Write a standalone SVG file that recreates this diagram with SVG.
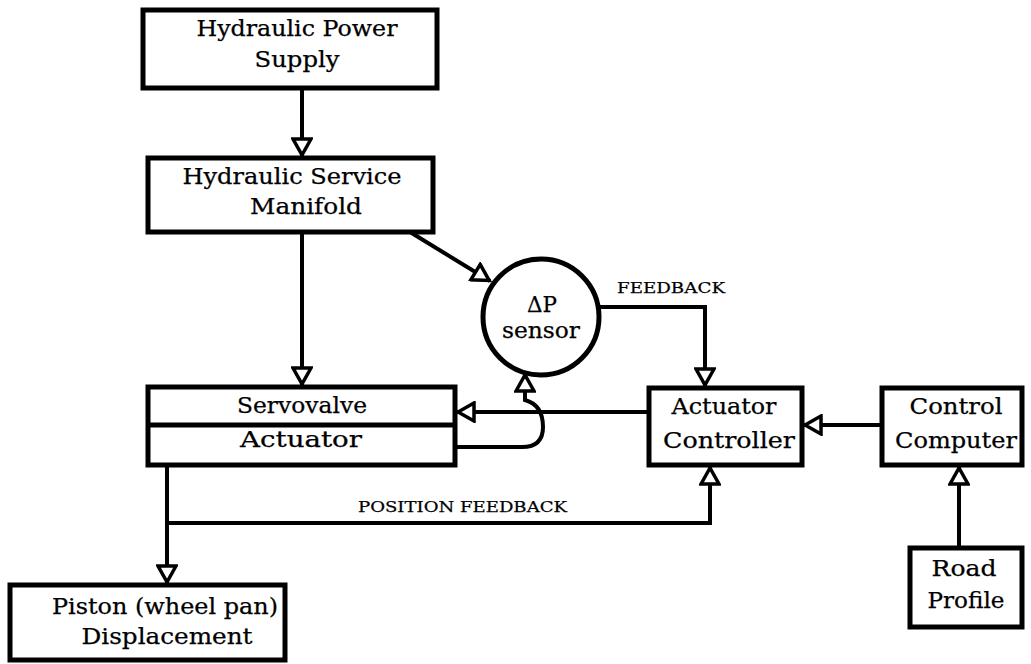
<svg xmlns="http://www.w3.org/2000/svg" width="1031" height="664" viewBox="0 0 1031 664">
<style>
.box{fill:#fff;stroke:#000;stroke-width:5}
.ln{fill:none;stroke:#000;stroke-width:4}
.t{font-family:"DejaVu Serif","Liberation Serif",serif;font-size:22px;text-anchor:middle;fill:#000;stroke:#000;stroke-width:0.25}
.s{font-family:"DejaVu Serif","Liberation Serif",serif;font-size:15px;fill:#000;stroke:#000;stroke-width:0.25}
</style>
<defs>
<marker id="ah" viewBox="0 0 22 22" refX="20" refY="11" markerWidth="22" markerHeight="22" markerUnits="userSpaceOnUse" orient="auto">
<path d="M3,2 L19,11 L3,20 z" fill="#fff" stroke="#000" stroke-width="3.5" stroke-linejoin="miter"/>
</marker>
</defs>
<rect width="1031" height="664" fill="#fff"/>
<g id="connectors">
<path class="ln" d="M302,88 V156" marker-end="url(#ah)"/>
<path class="ln" d="M302,232 V385" marker-end="url(#ah)"/>
<path class="ln" d="M410,232 L490,281" marker-end="url(#ah)"/>
<path class="ln" d="M599,307 H705 V386" marker-end="url(#ah)"/>
<path class="ln" d="M648,412 H457" marker-end="url(#ah)"/>
<path class="ln" d="M456,447 H522 Q543,447 543,427 Q543,405 525,400 V374" marker-end="url(#ah)"/>
<path class="ln" d="M882,425 H804" marker-end="url(#ah)"/>
<path class="ln" d="M959,548 V467" marker-end="url(#ah)"/>
<path class="ln" d="M167,465 V583" marker-end="url(#ah)"/>
<path class="ln" d="M167,523 H710 V467" marker-end="url(#ah)"/>
<text class="s" x="617" y="293" textLength="108" lengthAdjust="spacingAndGlyphs">FEEDBACK</text>
<text class="s" x="358" y="512" textLength="209" lengthAdjust="spacingAndGlyphs">POSITION FEEDBACK</text>
</g>
<g id="power">
<rect class="box" x="143" y="10" width="294" height="78"/>
<text class="t" x="297" y="36" textLength="201" lengthAdjust="spacingAndGlyphs">Hydraulic Power</text>
<text class="t" x="297" y="67" textLength="85" lengthAdjust="spacingAndGlyphs">Supply</text>
</g>
<g id="manifold">
<rect class="box" x="148" y="158" width="285" height="74"/>
<text class="t" x="292" y="184" textLength="219" lengthAdjust="spacingAndGlyphs">Hydraulic Service</text>
<text class="t" x="306" y="214" textLength="112" lengthAdjust="spacingAndGlyphs">Manifold</text>
</g>
<g id="sensor">
<circle cx="541" cy="317" r="58" fill="#fff" stroke="#000" stroke-width="5"/>
<text class="t" x="542" y="312" textLength="30" lengthAdjust="spacingAndGlyphs">ΔP</text>
<text class="t" x="541" y="338" textLength="78" lengthAdjust="spacingAndGlyphs">sensor</text>
</g>
<g id="servo">
<rect class="box" x="148" y="387" width="307" height="78"/>
<line x1="148" y1="425" x2="455" y2="425" stroke="#000" stroke-width="5"/>
<text class="t" x="302" y="413" textLength="130" lengthAdjust="spacingAndGlyphs">Servovalve</text>
<text class="t" x="301" y="447" textLength="122" lengthAdjust="spacingAndGlyphs">Actuator</text>
</g>
<g id="controller">
<rect class="box" x="649" y="388" width="153" height="77"/>
<text class="t" x="724" y="414" textLength="105" lengthAdjust="spacingAndGlyphs">Actuator</text>
<text class="t" x="729" y="448" textLength="132" lengthAdjust="spacingAndGlyphs">Controller</text>
</g>
<g id="computer">
<rect class="box" x="882" y="388" width="140" height="77"/>
<text class="t" x="956" y="414" textLength="93" lengthAdjust="spacingAndGlyphs">Control</text>
<text class="t" x="956" y="448" textLength="122" lengthAdjust="spacingAndGlyphs">Computer</text>
</g>
<g id="road">
<rect class="box" x="910" y="548" width="112" height="79"/>
<text class="t" x="964" y="576" textLength="65" lengthAdjust="spacingAndGlyphs">Road</text>
<text class="t" x="966" y="608" textLength="77" lengthAdjust="spacingAndGlyphs">Profile</text>
</g>
<g id="piston">
<rect class="box" x="10" y="585" width="275" height="75"/>
<text class="t" x="165" y="614" textLength="226" lengthAdjust="spacingAndGlyphs">Piston (wheel pan)</text>
<text class="t" x="167" y="644" textLength="171" lengthAdjust="spacingAndGlyphs">Displacement</text>
</g>
</svg>
